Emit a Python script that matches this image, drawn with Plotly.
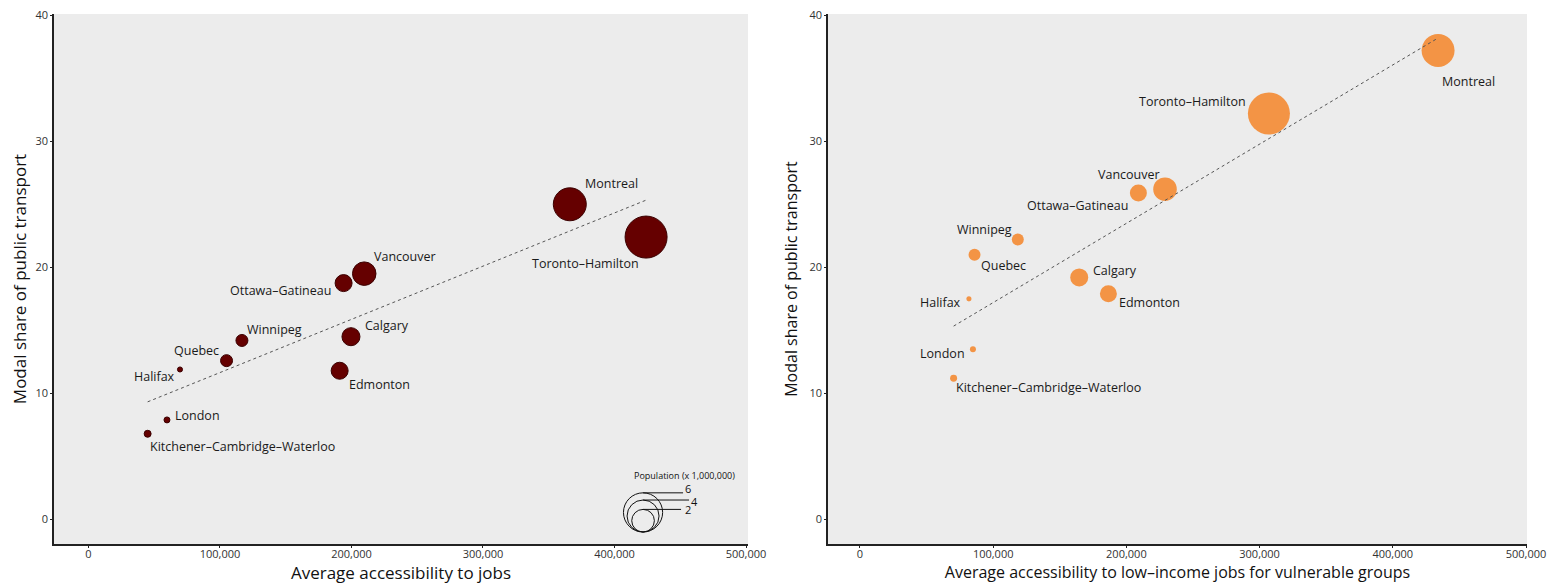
import numpy as np
import plotly.graph_objects as go

# ---------------- data ----------------
cities = ["Montreal", "Toronto–Hamilton", "Vancouver", "Ottawa–Gatineau", "Calgary",
          "Edmonton", "Winnipeg", "Quebec", "Halifax", "London",
          "Kitchener–Cambridge–Waterloo"]
population = [4.25, 6.9, 2.16, 1.13, 1.27, 1.13, 0.56, 0.56, 0.1, 0.14, 0.19]  # millions

jobs_access = [366000, 424000, 209700, 194000, 199600, 191000, 116700, 105000, 69600, 59700, 45000]
share_jobs = [25.0, 22.4, 19.5, 18.75, 14.5, 11.8, 14.2, 12.6, 11.9, 7.9, 6.8]

lowinc_access = [434000, 307000, 229000, 209000, 164600, 186500, 118500, 86000, 81800, 84800, 70300]
share_lowinc = [37.2, 32.2, 26.2, 25.9, 19.2, 17.9, 22.2, 21.0, 17.5, 13.5, 11.2]

x_ticks = [0, 100000, 200000, 300000, 400000, 500000]
y_ticks = [0, 10, 20, 30, 40]
legend_values = [6, 4, 2]

# ---------------- style ----------------
SIZEREF = 2 / 256.0          # diameter = 16*sqrt(pop)
FONT = "Open Sans"
DARK = "#650000"
ORANGE = "#f39445"

# label placement (anchor, xshift, yshift) per city for each panel
left_lab = [("left", 13, 21), ("right", -5, -26), ("left", 8, 17), ("right", -11, -7),
            ("left", 12, 11), ("left", 7, -14), ("left", 3, 11), ("right", -6, 10),
            ("right", -3, -7), ("left", 6, 4), ("left", 0, -13)]
right_lab = [("left", 2, -31), ("right", -21, 12), ("right", -3, 15), ("right", -8, -13),
             ("left", 12, 7), ("left", 9, -9), ("right", -4, 10), ("left", 4, -11),
             ("right", -6, -4), ("right", -6, -4), ("left", 0, -9)]

fig = go.Figure()

def add_panel(xs, ys, color, line_color, xa, ya, labels):
    fig.add_trace(go.Scatter(
        x=xs, y=ys, mode="markers", xaxis=xa, yaxis=ya, showlegend=False,
        marker=dict(size=population, sizemode="area", sizeref=SIZEREF, color=color,
                    line=dict(color=line_color, width=1 if line_color else 0), opacity=1),
        text=cities, hoverinfo="text+x+y"))
    # linear fit trend line
    k, b = np.polyfit(xs, ys, 1)
    tx = np.array([min(xs), max(xs)])
    fig.add_trace(go.Scatter(x=tx, y=k * tx + b, mode="lines", xaxis=xa, yaxis=ya,
                             showlegend=False, hoverinfo="skip",
                             line=dict(color="#555555", width=1, dash="dot")))
    for name, x, y, (anc, dx, dy) in zip(cities, xs, ys, labels):
        fig.add_annotation(x=x, y=y, xref=xa, yref=ya, text=name, showarrow=False,
                           xanchor=anc, yanchor="middle", xshift=dx, yshift=dy,
                           font=dict(family=FONT, size=12.5, color="#1a1a1a"))

add_panel(jobs_access, share_jobs, DARK, "#3a0000", "x", "y", left_lab)
add_panel(lowinc_access, share_lowinc, ORANGE, None, "x2", "y2", right_lab)

# population legend (left panel)
leg_x, leg_y = 421700, -0.99
leg_line_end = [40, 46, 38]
leg_lab_shift = [(45, 4), (51, -1), (45, 0)]
shapes = []
for v, le, (lx, ly) in zip(legend_values, leg_line_end, leg_lab_shift):
    d = np.sqrt(2 * v / SIZEREF)
    shapes.append(dict(type="circle", xref="x", yref="y", xsizemode="pixel", ysizemode="pixel",
                       xanchor=leg_x, yanchor=leg_y, x0=-d / 2, x1=d / 2, y0=0, y1=d,
                       line=dict(color="#111111", width=1), fillcolor="rgba(0,0,0,0)"))
    shapes.append(dict(type="line", xref="x", yref="y", xsizemode="pixel", ysizemode="pixel",
                       xanchor=leg_x, yanchor=leg_y, x0=0, x1=le, y0=d, y1=d,
                       line=dict(color="#111111", width=1)))
    fig.add_annotation(x=leg_x, y=leg_y, xref="x", yref="y", text=str(v), showarrow=False,
                       xanchor="center", yanchor="middle", xshift=lx, yshift=d + ly,
                       font=dict(family=FONT, size=11, color="#111111"))
fig.add_annotation(x=leg_x, y=leg_y, xref="x", yref="y", text="Population (x 1,000,000)",
                   showarrow=False, xanchor="center", yanchor="middle", xshift=41, yshift=57,
                   font=dict(family=FONT, size=9, color="#111111"))

axis_common = dict(showgrid=False, zeroline=False, showline=True, linecolor="#222222",
                   linewidth=1.5, ticks="outside", ticklen=2, tickcolor="#222222",
                   tickfont=dict(family=FONT, size=11, color="#333333"), mirror=False,
                   automargin=False, ticklabeloverflow="allow")
xaxis_extra = dict(ticklabelstandoff=-3)
yaxis_extra = dict(ticklabelstandoff=0)

YDOM = [0.088435, 0.989796]

fig.update_layout(
    width=1558, height=588, autosize=False,
    margin=dict(l=0, r=0, t=0, b=0, pad=0),
    paper_bgcolor="white", plot_bgcolor="#ececec",
    font=dict(family=FONT),
    shapes=shapes,
    xaxis=dict(domain=[0.029525, 0.474968], range=[-26200, 501500], tickvals=x_ticks,
               tickformat=",", anchor="y",
               title=dict(text="Average accessibility to jobs", standoff=3,
                          font=dict(family=FONT, size=17, color="#111111")),
               **axis_common, **xaxis_extra),
    yaxis=dict(domain=YDOM, range=[-1.94, 40.09], tickvals=y_ticks, anchor="x",
               title=dict(text="Modal share of public transport", standoff=8,
                          font=dict(family=FONT, size=17, color="#111111")),
               **axis_common, **yaxis_extra),
    xaxis2=dict(domain=[0.526316, 0.974968], range=[-24000, 500750], tickvals=x_ticks,
                tickformat=",", anchor="y2",
                title=dict(text="Average accessibility to low–income jobs for vulnerable groups",
                           standoff=3, font=dict(family=FONT, size=16, color="#111111")),
                **axis_common, **xaxis_extra),
    yaxis2=dict(domain=YDOM, range=[-1.94, 40.09], tickvals=y_ticks, anchor="x2",
                title=dict(text="Modal share of public transport", standoff=8,
                           font=dict(family=FONT, size=16, color="#111111")),
                **axis_common, **yaxis_extra),
)

fig.write_html("out.html")
